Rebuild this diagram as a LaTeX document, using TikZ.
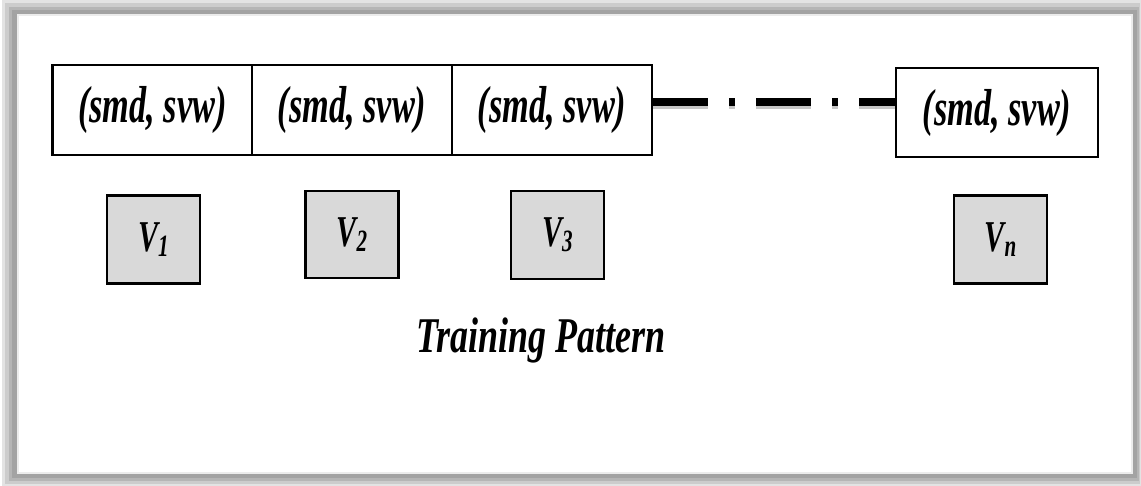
\documentclass[tikz,border=0pt]{standalone}
\usepackage{fontspec}
\setmainfont{Liberation Serif}
\definecolor{vfill}{HTML}{D9D9D9}
\tikzset{
  cellbox/.style={draw=black, line width=2.6pt, fill=white, minimum width=200pt, minimum height=90pt, inner sep=0pt},
  vbox/.style={draw=black, line width=2.6pt, fill=vfill, minimum width=93pt, minimum height=88pt, inner sep=0pt},
  dashline/.style={line width=8.5pt, dash pattern=on 55pt off 21pt on 6pt off 21pt},
  celltext/.style={font=\fontsize{52}{54}\selectfont\bfseries\itshape},
  vtext/.style={font=\fontsize{44}{46}\selectfont\bfseries\itshape},
}
\newcommand{\pairtxt}{\scalebox{0.66}[1]{(smd, svw)}}
\newcommand{\vlab}[1]{\scalebox{0.68}[1]{V\raisebox{-5pt}{\fontsize{31}{31}\selectfont #1}}}
\begin{document}
\begin{tikzpicture}[x=1pt,y=-1pt]
\useasboundingbox (0,0) rectangle (1141,486);
% frame with soft shadow
\fill[white] (0,0) rectangle (1141,486);
\fill[gray!22] (2,0) rectangle (1141,486);
\fill[gray!40] (5,3) rectangle (1140,484);
\fill[gray!58] (9,7) rectangle (1139,481);
\fill[gray!72] (12,10) rectangle (1137,478);
\fill[gray!15] (17,14) rectangle (1133,474);
\fill[white] (19,16) rectangle (1131,472);
% top row of cells
\node[cellbox, celltext] (b1) at (152.5,110) {\pairtxt};
\node[cellbox, celltext] (b2) at (352,110) {\pairtxt};
\node[cellbox, celltext] (b3) at (552,110) {\pairtxt};
\node[cellbox, celltext, minimum width=202pt, minimum height=89pt] (b4) at (997,112.5) {\pairtxt};
% dash-dot connector
\draw[dashline, draw=gray!45] ([yshift=5pt]b3.east) -- ([yshift=5pt]b3.east -| b4.west);
\draw[dashline] ([yshift=8pt]b3.east) -- ([yshift=8pt]b3.east -| b4.west);
% V boxes
\node[vbox, vtext] (v1) at (153.5,239.5) {\vlab{1}};
\node[vbox, vtext, minimum height=87pt] (v2) at (352,234.5) {\vlab{2}};
\node[vbox, vtext] (v3) at (557.5,235) {\vlab{3}};
\node[vbox, vtext] (vn) at (1000.5,239.5) {\vlab{n}};
% caption
\node[anchor=base, font=\fontsize{50}{52}\selectfont\bfseries\itshape, inner sep=0pt] (cap) at (541,353) {\scalebox{0.72}[1]{Training Pattern}};
\end{tikzpicture}
\end{document}
